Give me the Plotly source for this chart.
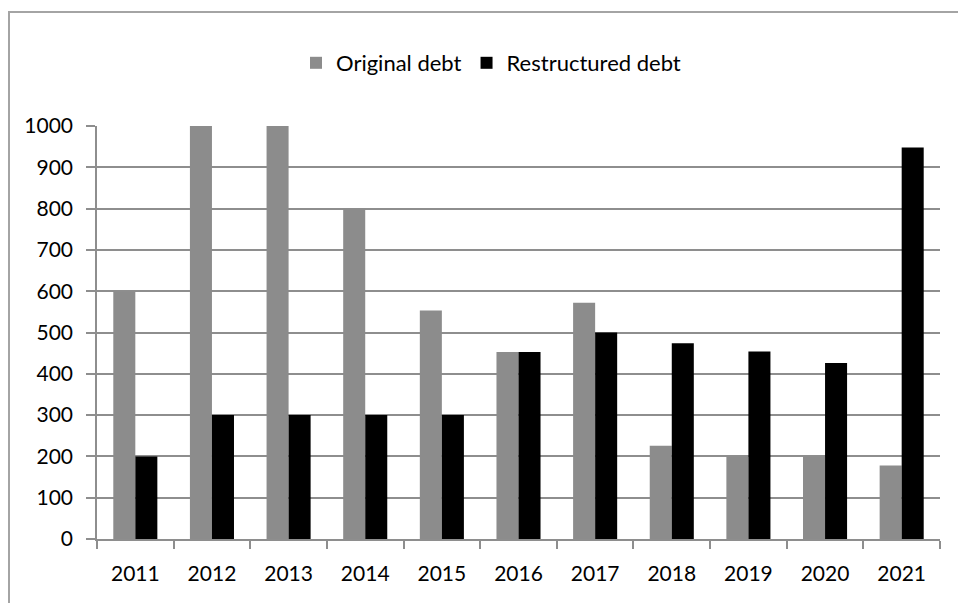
import plotly.graph_objects as go

years = ["2011", "2012", "2013", "2014", "2015", "2016",
         "2017", "2018", "2019", "2020", "2021"]
original_debt = [600, 1000, 1000, 800, 553, 453, 572, 226, 200, 200, 178]
restructured_debt = [200, 300, 300, 300, 300, 453, 500, 474, 454, 426, 948]

FONT = "Lato, sans-serif"
GRID = "#8e8e8e"

fig = go.Figure()
fig.add_trace(go.Bar(name="Original debt", x=years, y=original_debt,
                     marker=dict(color="#8c8c8c", line=dict(width=0))))
fig.add_trace(go.Bar(name="Restructured debt", x=years, y=restructured_debt,
                     marker=dict(color="#000000", line=dict(width=0))))

W, H = 958, 603
ml, mr, mt, mb = 97, 18, 126, 64
pw, ph = W - ml - mr, H - mt - mb


def px_x(p):
    return (p - ml) / pw


def px_y(p):
    return (H - mb - p) / ph


fig.update_layout(
    width=W, height=H,
    margin=dict(l=ml, r=mr, t=mt, b=mb, pad=0),
    paper_bgcolor="white", plot_bgcolor="white",
    barmode="group", bargap=0.425, bargroupgap=0,
    font=dict(family=FONT, size=21, color="#000000"),
    legend=dict(orientation="h", x=px_x(491), xanchor="center",
                y=px_y(63), yanchor="middle",
                font=dict(family=FONT, size=22, color="#000000"),
                bgcolor="rgba(0,0,0,0)"),
    shapes=[dict(type="rect", xref="paper", yref="paper",
                 x0=px_x(9), x1=px_x(990), y0=px_y(640), y1=px_y(12),
                 line=dict(color="#a4a4a4", width=2), layer="below")],
)

fig.update_xaxes(type="category", tickson="boundaries", ticks="outside",
                 ticklen=8, tickcolor=GRID, tickwidth=1.5,
                 showline=True, linecolor=GRID, linewidth=1.5,
                 showgrid=False, ticklabelstandoff=15,
                 tickfont=dict(family=FONT, size=21, color="#000000"))
fig.update_yaxes(range=[0, 1000], dtick=100, ticks="outside", ticklen=9,
                 tickcolor=GRID, tickwidth=1.5,
                 showline=True, linecolor=GRID, linewidth=1.5,
                 showgrid=True, gridcolor=GRID, gridwidth=1.5,
                 zeroline=False, ticklabelstandoff=9,
                 tickfont=dict(family=FONT, size=21, color="#000000"))

fig.write_html("out.html")
